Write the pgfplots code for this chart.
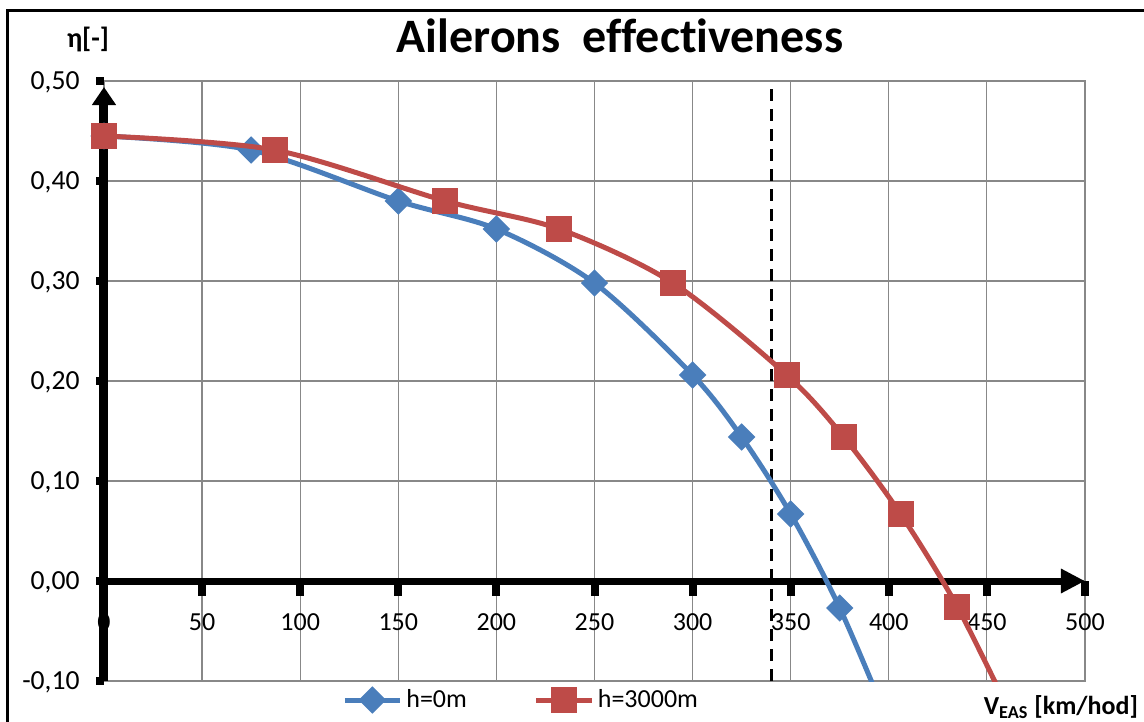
\documentclass[border=0pt]{standalone}
\usepackage{fontspec}
\setmainfont{Carlito}[Ligatures={NoCommon}]
\usepackage{pgfplots}
\pgfplotsset{compat=1.18}
\usetikzlibrary{arrows.meta}
\definecolor{sblue}{HTML}{4A7EBB}
\definecolor{sred}{HTML}{BE4B48}
\definecolor{gridgray}{HTML}{888888}
\begin{document}
\begin{tikzpicture}
\useasboundingbox (-52bp,-20.5bp) rectangle (520bp,340.5bp);
\begin{axis}[
  scale only axis, width=490.5bp, height=300bp,
  xmin=0, xmax=500, ymin=-0.1, ymax=0.5,
  xtick={0,50,...,500}, ytick={-0.1,0,0.1,0.2,0.3,0.4,0.5},
  xticklabels={0,50,100,150,200,250,300,350,400,450,500},
  yticklabels={{-0,10},{0,00},{0,10},{0,20},{0,30},{0,40},{0,50}},
  grid=major, major grid style={gridgray, line width=0.6bp},
  axis line style={gridgray, dash pattern=on 3bp off 1.5bp, line width=0.7bp},
  major tick length=0pt,
  tick label style={font=\fontsize{13bp}{15bp}\selectfont, inner sep=0pt, text depth=0pt},
  xticklabel style={anchor=center, yshift=29.25bp},
  yticklabel style={anchor=east, xshift=-12bp, font=\fontsize{13.8bp}{15bp}\selectfont},
  clip mode=individual,
  legend image code/.code={
    \draw[mark repeat=2,mark phase=2] plot coordinates {(0bp,0bp) (13.75bp,0bp) (27.5bp,0bp)};
  },
  legend style={draw=none, fill=none, at={(0.2365,-0.0317)}, anchor=west,
    font=\fontsize{13bp}{15bp}\selectfont,
    /tikz/every even column/.append style={column sep=31.5bp}},
  legend columns=2,
]
% thick axes with arrows
\draw[line width=4.5bp, -{Triangle[length=9bp,width=11.5bp]}] (axis cs:0,-0.1) -- (axis cs:0,0.494);
\draw[line width=3.5bp, -{Triangle[length=12bp,width=11.5bp]}] (axis cs:0,0) -- (axis cs:500,0);
% dashed limit
\draw[black, line width=1.5bp, dash pattern=on 6bp off 4bp] (axis cs:340,-0.1) -- (axis cs:340,0.497);
\addplot[sblue, line width=2.5bp, smooth, tension=0.5, mark=square*, mark size=3.6bp,
  mark options={rotate=45, solid}] coordinates {
  (0,0.445) (75,0.431) (150,0.380) (200,0.352) (250,0.298) (300,0.206)
  (325,0.144) (350,0.067) (375,-0.027) (400,-0.142)
};
\addlegendentry{h=0m}
\addplot[sred, line width=2.5bp, smooth, tension=0.5, mark=square*, mark size=5.25bp,
  mark options={solid}] coordinates {
  (0,0.445) (87,0.431) (174,0.380) (232,0.352) (290,0.298) (348,0.206)
  (377,0.144) (406,0.067) (435,-0.026) (464,-0.141)
};
\addlegendentry{h=3000m}
\end{axis}
% tick squares on the axes
\foreach \i in {1,...,10} {
  \fill (\i*49.05bp-2bp, 50bp) rectangle ++(4bp,-7.5bp);
}
\foreach \j in {0,...,6} {
  \fill (-4bp, \j*50bp-2bp) rectangle ++(4bp,4bp);
}
% outer frame
\draw[black, line width=1.5bp] (-48bp,-40bp) rectangle (540bp,335bp);
% title and axis labels
\node[anchor=base, font=\fontsize{24bp}{28bp}\selectfont\bfseries] at (258bp,314bp) {Ailerons\ \ effectiveness};
\node[font=\fontsize{14bp}{16bp}\selectfont\bfseries] at (-8bp,321bp) {η[-]};
\node[anchor=east, font=\fontsize{13bp}{15bp}\selectfont\bfseries] at (520.5bp,-13bp) {V\textsubscript{EAS} [km/hod]};
\end{tikzpicture}
\end{document}
